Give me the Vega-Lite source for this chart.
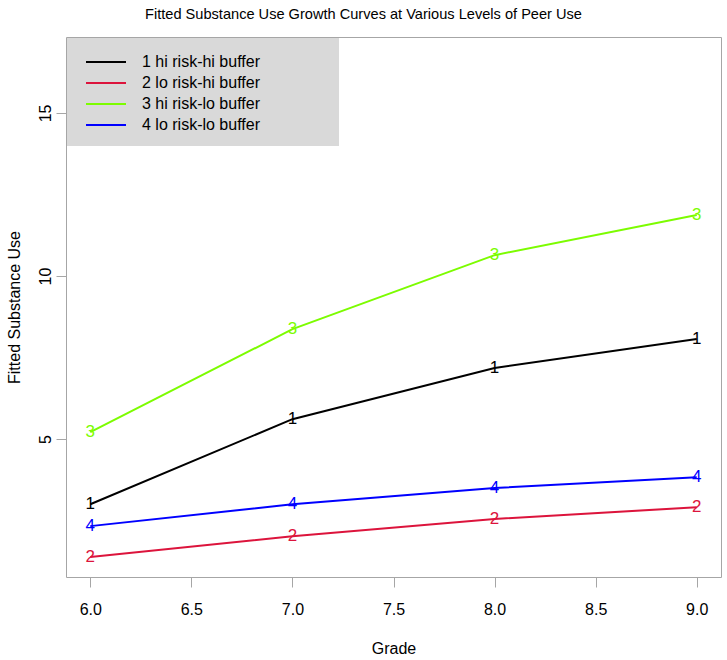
{
  "$schema": "https://vega.github.io/schema/vega-lite/v6.json",
  "width": 655,
  "height": 540,
  "autosize": {"type": "none"},
  "padding": {"left": 66, "top": 37, "right": 6, "bottom": 83},
  "background": "white",
  "config": {
    "font": "Liberation Sans",
    "view": {"stroke": "#a6a6a6", "strokeWidth": 1},
    "axis": {
      "domain": false,
      "grid": false,
      "tickColor": "#a6a6a6",
      "tickSize": 10,
      "labelFont": "Liberation Sans",
      "titleFont": "Liberation Sans",
      "labelFontSize": 16,
      "titleFontSize": 16,
      "titleFontWeight": "normal",
      "labelColor": "black",
      "titleColor": "black"
    },
    "legend": {"labelFont": "Liberation Sans", "titleFont": "Liberation Sans"}
  },
  "title": {
    "text": "Fitted Substance Use Growth Curves at Various Levels of Peer Use",
    "font": "Liberation Sans",
    "fontSize": 14.6,
    "fontWeight": "normal",
    "color": "black",
    "frame": "bounds",
    "anchor": "middle",
    "baseline": "bottom",
    "offset": 0
  },
  "data": {
    "values": [
      {"grade": 6, "use": 3.0, "group": "1 hi risk-hi buffer", "id": "1"},
      {"grade": 7, "use": 5.61, "group": "1 hi risk-hi buffer", "id": "1"},
      {"grade": 8, "use": 7.18, "group": "1 hi risk-hi buffer", "id": "1"},
      {"grade": 9, "use": 8.07, "group": "1 hi risk-hi buffer", "id": "1"},
      {"grade": 6, "use": 1.38, "group": "2 lo risk-hi buffer", "id": "2"},
      {"grade": 7, "use": 2.02, "group": "2 lo risk-hi buffer", "id": "2"},
      {"grade": 8, "use": 2.55, "group": "2 lo risk-hi buffer", "id": "2"},
      {"grade": 9, "use": 2.91, "group": "2 lo risk-hi buffer", "id": "2"},
      {"grade": 6, "use": 5.21, "group": "3 hi risk-lo buffer", "id": "3"},
      {"grade": 7, "use": 8.37, "group": "3 hi risk-lo buffer", "id": "3"},
      {"grade": 8, "use": 10.64, "group": "3 hi risk-lo buffer", "id": "3"},
      {"grade": 9, "use": 11.87, "group": "3 hi risk-lo buffer", "id": "3"},
      {"grade": 6, "use": 2.33, "group": "4 lo risk-lo buffer", "id": "4"},
      {"grade": 7, "use": 3.0, "group": "4 lo risk-lo buffer", "id": "4"},
      {"grade": 8, "use": 3.5, "group": "4 lo risk-lo buffer", "id": "4"},
      {"grade": 9, "use": 3.83, "group": "4 lo risk-lo buffer", "id": "4"}
    ]
  },
  "encoding": {
    "x": {
      "field": "grade",
      "type": "quantitative",
      "scale": {"domain": [5.88, 9.12], "nice": false, "zero": false},
      "axis": {
        "values": [6, 6.5, 7, 7.5, 8, 8.5, 9],
        "format": ".1f",
        "title": "Grade",
        "labelPadding": 14,
        "titlePadding": 23,
        "labelFlush": false
      }
    },
    "y": {
      "field": "use",
      "type": "quantitative",
      "scale": {"domain": [0.77, 17.33], "nice": false, "zero": false},
      "axis": {
        "values": [5, 10, 15],
        "labelAngle": 270,
        "labelAlign": "center",
        "labelBaseline": "bottom",
        "labelPadding": 3,
        "title": "Fitted Substance Use",
        "titlePadding": 15
      }
    },
    "color": {
      "field": "group",
      "type": "nominal",
      "scale": {
        "domain": ["1 hi risk-hi buffer", "2 lo risk-hi buffer", "3 hi risk-lo buffer", "4 lo risk-lo buffer"],
        "range": ["#000000", "#DC143C", "#7CFC00", "#0000FF"]
      }
    }
  },
  "layer": [
    {
      "mark": {"type": "line", "strokeWidth": 2},
      "encoding": {
        "color": {
          "field": "group",
          "type": "nominal",
          "legend": {
            "title": "\u00a0",
            "titleOrient": "right",
            "titlePadding": 66,
            "orient": "top-left",
            "offset": 1,
            "fillColor": "#d9d9d9",
            "padding": 13,
            "symbolType": "M-0.5,0H3.5",
            "symbolSize": 400,
            "symbolStrokeWidth": 2,
            "labelFontSize": 16,
            "labelColor": "black",
            "labelOffset": 40,
            "rowPadding": 2,
            "labelLimit": 400
          }
        }
      }
    },
    {
      "mark": {"type": "text", "fontSize": 17, "align": "center", "baseline": "middle"},
      "encoding": {
        "text": {"field": "id", "type": "nominal"},
        "color": {"field": "group", "type": "nominal", "legend": null}
      }
    }
  ]
}
